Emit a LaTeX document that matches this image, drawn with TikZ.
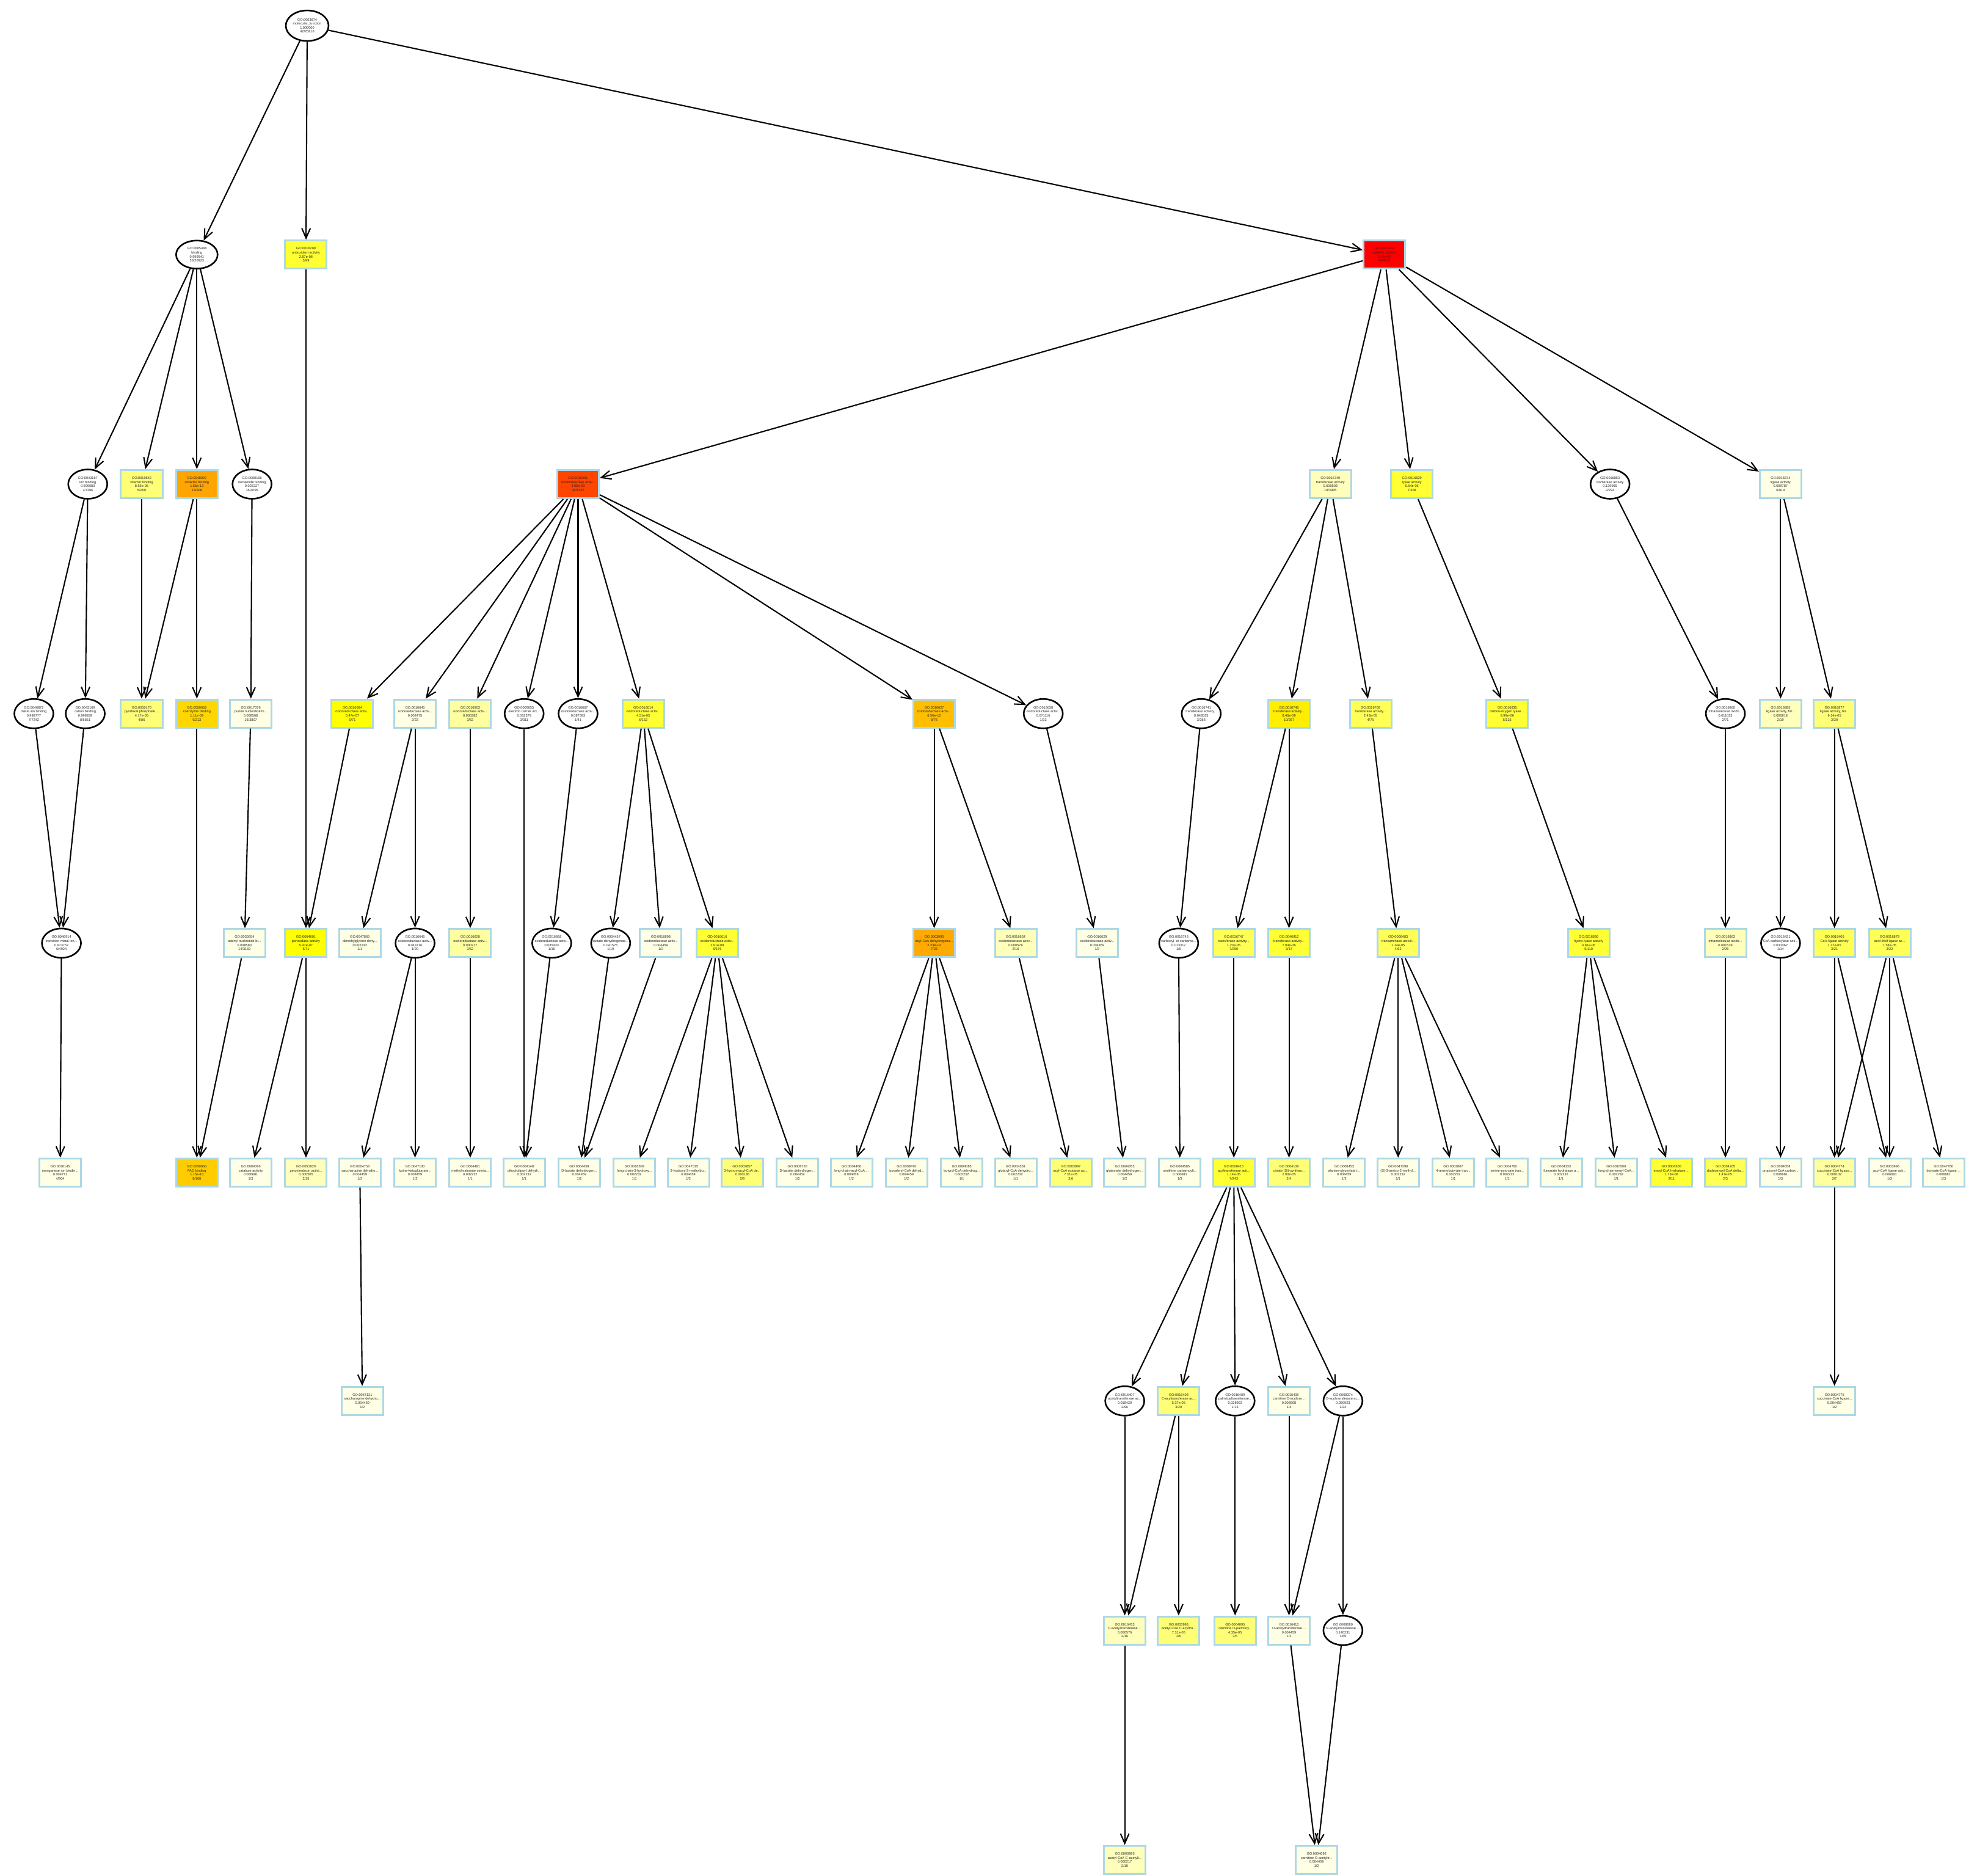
\documentclass[tikz,border=0pt]{standalone}
\usepackage{fontspec}
\setmainfont{Liberation Sans}
\usetikzlibrary{shapes.geometric,arrows.meta}
\definecolor{cRed}{HTML}{FF0000}
\definecolor{cOR}{HTML}{FF4500}
\definecolor{cOa}{HTML}{FFA500}
\definecolor{cOb}{HTML}{FFAA00}
\definecolor{cOc}{HTML}{FFBF00}
\definecolor{cOd}{HTML}{FFCC00}
\definecolor{cOe}{HTML}{FFD700}
\definecolor{cOf}{HTML}{FFEE00}
\definecolor{cYa}{HTML}{FFFF00}
\definecolor{cYb}{HTML}{FFFF33}
\definecolor{cYc}{HTML}{FFFF55}
\definecolor{cYd}{HTML}{FFFF77}
\definecolor{cYe}{HTML}{FFFFA0}
\definecolor{cYf}{HTML}{FFFFBB}
\definecolor{cYg}{HTML}{FFFFE6}
\definecolor{bblue}{HTML}{ADD8E6}
\newcommand\golab[4]{#1\\#2\\#3\\#4}
\tikzset{
  gotext/.style={font=\fontsize{5.6}{6.6}\selectfont, align=center, text=black!85},
  gobox/.style={gotext, rectangle, draw=bblue, line width=3pt, minimum width=68pt, minimum height=46pt, inner sep=0pt},
  goell/.style={gotext, ellipse, draw=black, fill=white, line width=2.6pt, minimum width=64pt, minimum height=48pt, inner xsep=-10pt, inner ysep=0pt},
  edge/.style={draw=black, line width=2.1pt, -{Straight Barb[length=16pt,width=14pt]}},
}
\begin{document}
\begin{tikzpicture}[x=2.053pt,y=-2.053pt]
\useasboundingbox[fill=white] (0,0) rectangle (1567.9,1495.4);
% row 0
\node[goell, minimum width=70pt, minimum height=50pt] (n3674) at (245,20.5) {\golab{GO:0003674}{molecular\_function}{1.000000}{42/25816}};
% row 1
\node[goell, minimum width=68pt, minimum height=46pt] (n5488) at (157,203) {\golab{GO:0005488}{binding}{0.999941}{33/20923}};
\node[gobox, fill=cYb] (n16209) at (244,203) {\golab{GO:0016209}{antioxidant activity}{2.87e-06}{5/99}};
\node[gobox, fill=cRed] (n3824) at (1104,203) {\golab{GO:0003824}{catalytic activity}{1.43e-07}{42/9532}};
% row 2
\node[goell] (n43167) at (70,386) {\golab{GO:0043167}{ion binding}{0.999080}{7/7386}};
\node[gobox, fill=cYd] (n19842) at (113,386) {\golab{GO:0019842}{vitamin binding}{8.55e-05}{5/200}};
\node[gobox, fill=cOa] (n48037) at (157,386) {\golab{GO:0048037}{cofactor binding}{1.55e-13}{13/308}};
\node[goell] (n166) at (201,386) {\golab{GO:0000166}{nucleotide binding}{0.025327}{16/4095}};
\node[gobox, fill=cOR] (n16491) at (461,386) {\golab{GO:0016491}{oxidoreductase activ...}{4.05e-20}{28/1422}};
\node[gobox, fill=cYf] (n16740) at (1061,386) {\golab{GO:0016740}{transferase activity}{0.000803}{19/3985}};
\node[gobox, fill=cYb] (n16829) at (1126,386) {\golab{GO:0016829}{lyase activity}{5.64e-06}{7/308}};
\node[goell] (n16853) at (1284,386) {\golab{GO:0016853}{isomerase activity}{0.139955}{2/294}};
\node[gobox, fill=cYg] (n16874) at (1420,386) {\golab{GO:0016874}{ligase activity}{0.009787}{6/819}};
% row 3
\node[goell] (n46872) at (27,569) {\golab{GO:0046872}{metal ion binding}{0.998777}{7/7242}};
\node[goell] (n43169) at (68,569) {\golab{GO:0043169}{cation binding}{0.998839}{8/6851}};
\node[gobox, fill=cYd] (n30170) at (113,569) {\golab{GO:0030170}{pyridoxal phosphate ...}{4.17e-05}{4/86}};
\node[gobox, fill=cOe] (n50662) at (157,569) {\golab{GO:0050662}{coenzyme binding}{1.11e-09}{9/213}};
\node[gobox, fill=cYg] (n17076) at (200,569) {\golab{GO:0017076}{purine nucleotide bi...}{0.008568}{16/3807}};
\node[gobox, fill=cYa] (n16684) at (281,569) {\golab{GO:0016684}{oxidoreductase activ...}{5.47e-07}{5/71}};
\node[gobox, fill=cYg] (n16645) at (331,569) {\golab{GO:0016645}{oxidoreductase activ...}{0.002475}{2/23}};
\node[gobox, fill=cYe] (n16903) at (375,569) {\golab{GO:0016903}{oxidoreductase activ...}{0.000382}{3/63}};
\node[goell] (n9055) at (418,569) {\golab{GO:0009055}{electron carrier act...}{0.032379}{3/311}};
\node[goell] (n16667) at (461,569) {\golab{GO:0016667}{oxidoreductase activ...}{0.087593}{1/41}};
\node[gobox, fill=cYb] (n16614) at (513,569) {\golab{GO:0016614}{oxidoreductase activ...}{4.51e-05}{6/152}};
\node[gobox, fill=cOc] (n16627) at (745,569) {\golab{GO:0016627}{oxidoreductase activ...}{6.50e-12}{8/76}};
\node[goell] (n16638) at (832,569) {\golab{GO:0016638}{oxidoreductase activ...}{0.071116}{1/33}};
\node[goell] (n16741) at (958,569) {\golab{GO:0016741}{transferase activity...}{0.048535}{3/366}};
\node[gobox, fill=cOf] (n16746) at (1028,569) {\golab{GO:0016746}{transferase activity...}{8.46e-09}{10/267}};
\node[gobox, fill=cYc] (n16769) at (1093,569) {\golab{GO:0016769}{transferase activity...}{2.43e-05}{4/75}};
\node[gobox, fill=cYb] (n16835) at (1202,569) {\golab{GO:0016835}{carbon-oxygen lyase ...}{8.99e-06}{5/125}};
\node[goell] (n16860) at (1376,569) {\golab{GO:0016860}{intramolecular oxido...}{0.011033}{2/71}};
\node[gobox, fill=cYf] (n16885) at (1420,569) {\golab{GO:0016885}{ligase activity, for...}{0.000818}{2/19}};
\node[gobox, fill=cYd] (n16877) at (1463,569) {\golab{GO:0016877}{ligase activity, for...}{9.14e-05}{3/39}};
% row 4
\node[goell] (n46914) at (49,752) {\golab{GO:0046914}{transition metal ion...}{0.973757}{6/4924}};
\node[gobox, fill=cYg] (n30554) at (195,752) {\golab{GO:0030554}{adenyl nucleotide bi...}{0.008580}{14/3150}};
\node[gobox, fill=cYa] (n4601) at (244,752) {\golab{GO:0004601}{peroxidase activity}{5.47e-07}{5/71}};
\node[gobox, fill=cYg] (n47865) at (287,752) {\golab{GO:0047865}{dimethylglycine dehy...}{0.002232}{1/1}};
\node[goell] (n16646) at (331,752) {\golab{GO:0016646}{oxidoreductase activ...}{0.043716}{1/20}};
\node[gobox, fill=cYe] (n16620) at (375,752) {\golab{GO:0016620}{oxidoreductase activ...}{0.000217}{3/52}};
\node[goell] (n16668) at (440,752) {\golab{GO:0016668}{oxidoreductase activ...}{0.035433}{1/16}};
\node[goell] (n4457) at (487,752) {\golab{GO:0004457}{lactate dehydrogenas...}{0.041575}{1/19}};
\node[gobox, fill=cYg] (n16898) at (527,752) {\golab{GO:0016898}{oxidoreductase activ...}{0.004459}{1/2}};
\node[gobox, fill=cYb] (n16616) at (572,752) {\golab{GO:0016616}{oxidoreductase activ...}{2.91e-08}{6/176}};
\node[gobox, fill=cOb] (n3995) at (745,752) {\golab{GO:0003995}{acyl-CoA dehydrogena...}{2.23e-13}{7/28}};
\node[gobox, fill=cYf] (n16634) at (810,752) {\golab{GO:0016634}{oxidoreductase activ...}{0.000576}{2/16}};
\node[gobox, fill=cYg] (n16629) at (875,752) {\golab{GO:0016629}{oxidoreductase activ...}{0.004459}{1/2}};
\node[goell] (n16743) at (940,752) {\golab{GO:0016743}{carboxyl- or carbamo...}{0.013317}{1/6}};
\node[gobox, fill=cYc] (n16747) at (984,752) {\golab{GO:0016747}{transferase activity...}{1.23e-05}{7/250}};
\node[gobox, fill=cYb] (n46912) at (1028,752) {\golab{GO:0046912}{transferase activity...}{7.04e-06}{3/17}};
\node[gobox, fill=cYc] (n8483) at (1115,752) {\golab{GO:0008483}{transaminase activit...}{1.14e-05}{4/62}};
\node[gobox, fill=cYb] (n16836) at (1267,752) {\golab{GO:0016836}{hydro-lyase activity}{4.81e-06}{5/110}};
\node[gobox, fill=cYf] (n16863) at (1376,752) {\golab{GO:0016863}{intramolecular oxido...}{0.001539}{2/26}};
\node[goell] (n16421) at (1420,752) {\golab{GO:0016421}{CoA carboxylase acti...}{0.031062}{1/14}};
\node[gobox, fill=cYc] (n16405) at (1463,752) {\golab{GO:0016405}{CoA-ligase activity}{1.37e-05}{3/21}};
\node[gobox, fill=cYc] (n16878) at (1507,752) {\golab{GO:0016878}{acid-thiol ligase ac...}{1.58e-05}{3/22}};
% row 5
\node[gobox, fill=cYg] (n30145) at (48,935) {\golab{GO:0030145}{manganese ion bindin...}{0.004771}{4/304}};
\node[gobox, fill=cOd] (n50660) at (157,935) {\golab{GO:0050660}{FAD binding}{1.15e-10}{8/108}};
\node[gobox, fill=cYg] (n4096) at (200,935) {\golab{GO:0004096}{catalase activity}{0.006681}{1/3}};
\node[gobox, fill=cYf] (n51920) at (244,935) {\golab{GO:0051920}{peroxiredoxin activi...}{0.000505}{2/15}};
\node[gobox, fill=cYg] (n4753) at (287,935) {\golab{GO:0004753}{saccharopine dehydro...}{0.004459}{1/2}};
\node[gobox, fill=cYg] (n47130) at (331,935) {\golab{GO:0047130}{lysine-ketoglutarate...}{0.004459}{1/2}};
\node[gobox, fill=cYg] (n4491) at (375,935) {\golab{GO:0004491}{methylmalonate-semia...}{0.002232}{1/1}};
\node[gobox, fill=cYg] (n4148) at (418,935) {\golab{GO:0004148}{dihydrolipoyl dehydr...}{0.002232}{1/1}};
\node[gobox, fill=cYg] (n4458) at (462,935) {\golab{GO:0004458}{D-lactate dehydrogen...}{0.004459}{1/2}};
\node[gobox, fill=cYg] (n16509) at (506,935) {\golab{GO:0016509}{long-chain-3-hydroxy...}{0.002232}{1/1}};
\node[gobox, fill=cYg] (n47015) at (549,935) {\golab{GO:0047015}{3-hydroxy-2-methylbu...}{0.004459}{1/2}};
\node[gobox, fill=cYd] (n3857) at (592,935) {\golab{GO:0003857}{3-hydroxyacyl-CoA de...}{0.000136}{2/8}};
\node[gobox, fill=cYg] (n8720) at (636,935) {\golab{GO:0008720}{D-lactate dehydrogen...}{0.004459}{1/2}};
\node[gobox, fill=cYg] (n4466) at (679,935) {\golab{GO:0004466}{long-chain-acyl-CoA ...}{0.004459}{1/2}};
\node[gobox, fill=cYg] (n8470) at (723,935) {\golab{GO:0008470}{isovaleryl-CoA dehyd...}{0.004459}{1/2}};
\node[gobox, fill=cYg] (n4085) at (767,935) {\golab{GO:0004085}{butyryl-CoA dehydrog...}{0.002232}{1/1}};
\node[gobox, fill=cYg] (n4361) at (810,935) {\golab{GO:0004361}{glutaryl-CoA dehydro...}{0.002232}{1/1}};
\node[gobox, fill=cYd] (n3997) at (854,935) {\golab{GO:0003997}{acyl-CoA oxidase act...}{7.31e-05}{2/6}};
\node[gobox, fill=cYg] (n4353) at (897,935) {\golab{GO:0004353}{glutamate dehydrogen...}{0.004459}{1/2}};
\node[gobox, fill=cYg] (n4585) at (941,935) {\golab{GO:0004585}{ornithine carbamoylt...}{0.006681}{1/3}};
\node[gobox, fill=cYb] (n8415) at (984,935) {\golab{GO:0008415}{acyltransferase acti...}{1.14e-05}{7/243}};
\node[gobox, fill=cYd] (n4108) at (1028,935) {\golab{GO:0004108}{citrate (Si)-synthas...}{2.90e-05}{2/4}};
\node[gobox, fill=cYg] (n8453) at (1072,935) {\golab{GO:0008453}{alanine-glyoxylate t...}{0.004459}{1/2}};
\node[gobox, fill=cYg] (n47298) at (1115,935) {\golab{GO:0047298}{(S)-3-amino-2-methyl...}{0.002232}{1/1}};
\node[gobox, fill=cYg] (n3867) at (1159,935) {\golab{GO:0003867}{4-aminobutyrate tran...}{0.002232}{1/1}};
\node[gobox, fill=cYg] (n4760) at (1202,935) {\golab{GO:0004760}{serine-pyruvate tran...}{0.002232}{1/1}};
\node[gobox, fill=cYg] (n4333) at (1245,935) {\golab{GO:0004333}{fumarate hydratase a...}{0.002232}{1/1}};
\node[gobox, fill=cYg] (n16508) at (1289,935) {\golab{GO:0016508}{long-chain-enoyl-CoA...}{0.002232}{1/1}};
\node[gobox, fill=cYb] (n4300) at (1333,935) {\golab{GO:0004300}{enoyl-CoA hydratase ...}{1.73e-06}{3/11}};
\node[gobox, fill=cYc] (n4165) at (1376,935) {\golab{GO:0004165}{dodecenoyl-CoA delta...}{1.47e-05}{2/3}};
\node[gobox, fill=cYg] (n4658) at (1420,935) {\golab{GO:0004658}{propionyl-CoA carbox...}{0.006681}{1/3}};
\node[gobox, fill=cYe] (n4774) at (1463,935) {\golab{GO:0004774}{succinate-CoA ligase...}{0.000102}{2/7}};
\node[gobox, fill=cYg] (n3996) at (1507,935) {\golab{GO:0003996}{acyl-CoA ligase acti...}{0.006681}{1/3}};
\node[gobox, fill=cYg] (n47760) at (1550,935) {\golab{GO:0047760}{butyrate-CoA ligase ...}{0.006681}{1/3}};
% row 6
\node[gobox, fill=cYg] (r6a) at (289,1117) {\golab{GO:0047131}{saccharopine dehydro...}{0.004459}{1/2}};
\node[goell] (r6b) at (897,1117) {\golab{GO:0016407}{acetyltransferase ac...}{0.018420}{2/96}};
\node[gobox, fill=cYd] (r6c) at (940,1117) {\golab{GO:0016408}{C-acyltransferase ac...}{5.37e-05}{3/29}};
\node[goell] (r6d) at (985,1117) {\golab{GO:0016409}{palmitoyltransferase...}{0.028903}{1/13}};
\node[gobox, fill=cYg] (r6e) at (1028,1117) {\golab{GO:0016406}{carnitine O-acyltran...}{0.008908}{1/4}};
\node[goell] (r6f) at (1071,1117) {\golab{GO:0008374}{O-acyltransferase ac...}{0.050923}{1/24}};
\node[gobox, fill=cYg] (r6g) at (1463,1117) {\golab{GO:0004775}{succinate-CoA ligase...}{0.004459}{1/2}};
% row 7
\node[gobox, fill=cYf] (r7a) at (897,1300) {\golab{GO:0016453}{C-acetyltransferase ...}{0.000576}{2/16}};
\node[gobox, fill=cYd] (r7b) at (940,1300) {\golab{GO:0003988}{acetyl-CoA C-acyltra...}{7.31e-05}{2/6}};
\node[gobox, fill=cYd] (r7c) at (985,1300) {\golab{GO:0004095}{carnitine O-palmitoy...}{4.35e-05}{2/5}};
\node[gobox, fill=cYg] (r7d) at (1028,1300) {\golab{GO:0016413}{O-acetyltransferase ...}{0.004459}{1/2}};
\node[goell] (r7e) at (1071,1300) {\golab{GO:0008080}{N-acetyltransferase ...}{0.140231}{1/69}};
% row 8
\node[gobox, fill=cYf] (r8a) at (897,1483) {\golab{GO:0003985}{acetyl-CoA C-acetylt...}{0.000217}{2/10}};
\node[gobox, fill=cYg] (r8b) at (1050,1483) {\golab{GO:0004092}{carnitine O-acetyltr...}{0.004459}{1/2}};
% edges
\foreach \a/\b in {n3674/n5488, n3674/n16209, n3674/n3824,
  n5488/n43167, n5488/n19842, n5488/n48037, n5488/n166,
  n3824/n16491, n3824/n16740, n3824/n16829, n3824/n16853, n3824/n16874,
  n43167/n46872, n43167/n43169, n19842/n30170, n48037/n30170, n48037/n50662,
  n166/n17076, n16209/n4601,
  n16491/n16684, n16491/n16645, n16491/n16903, n16491/n9055, n16491/n16667, n16491/n16614, n16491/n16627, n16491/n16638,
  n16740/n16741, n16740/n16746, n16740/n16769, n16829/n16835, n16853/n16860,
  n16874/n16885, n16874/n16877,
  n46872/n46914, n43169/n46914, n50662/n50660, n17076/n30554, n16684/n4601,
  n16645/n47865, n16645/n16646, n16903/n16620, n9055/n4148, n16667/n16668,
  n16614/n4457, n16614/n16898, n16614/n16616, n16627/n3995, n16627/n16634, n16638/n16629,
  n16741/n16743, n16746/n16747, n16746/n46912, n16769/n8483, n16835/n16836,
  n16860/n16863, n16885/n16421, n16877/n16405, n16877/n16878,
  n46914/n30145, n30554/n50660, n4601/n4096, n4601/n51920,
  n16646/n4753, n16646/n47130, n16620/n4491, n16668/n4148, n4457/n4458, n16898/n4458,
  n16616/n16509, n16616/n47015, n16616/n3857, n16616/n8720,
  n3995/n4466, n3995/n8470, n3995/n4085, n3995/n4361, n16634/n3997, n16629/n4353,
  n16743/n4585, n16747/n8415, n46912/n4108,
  n8483/n8453, n8483/n47298, n8483/n3867, n8483/n4760,
  n16836/n4333, n16836/n16508, n16836/n4300, n16863/n4165, n16421/n4658,
  n16405/n4774, n16405/n3996, n16878/n4774, n16878/n3996, n16878/n47760,
  n4753/r6a, n8415/r6b, n8415/r6c, n8415/r6d, n8415/r6e, n8415/r6f, n4774/r6g,
  r6b/r7a, r6c/r7a, r6c/r7b, r6d/r7c, r6e/r7d, r6f/r7d, r6f/r7e,
  r7a/r8a, r7d/r8b, r7e/r8b}
  \draw[edge] (\a) -- (\b);
\end{tikzpicture}
\end{document}
